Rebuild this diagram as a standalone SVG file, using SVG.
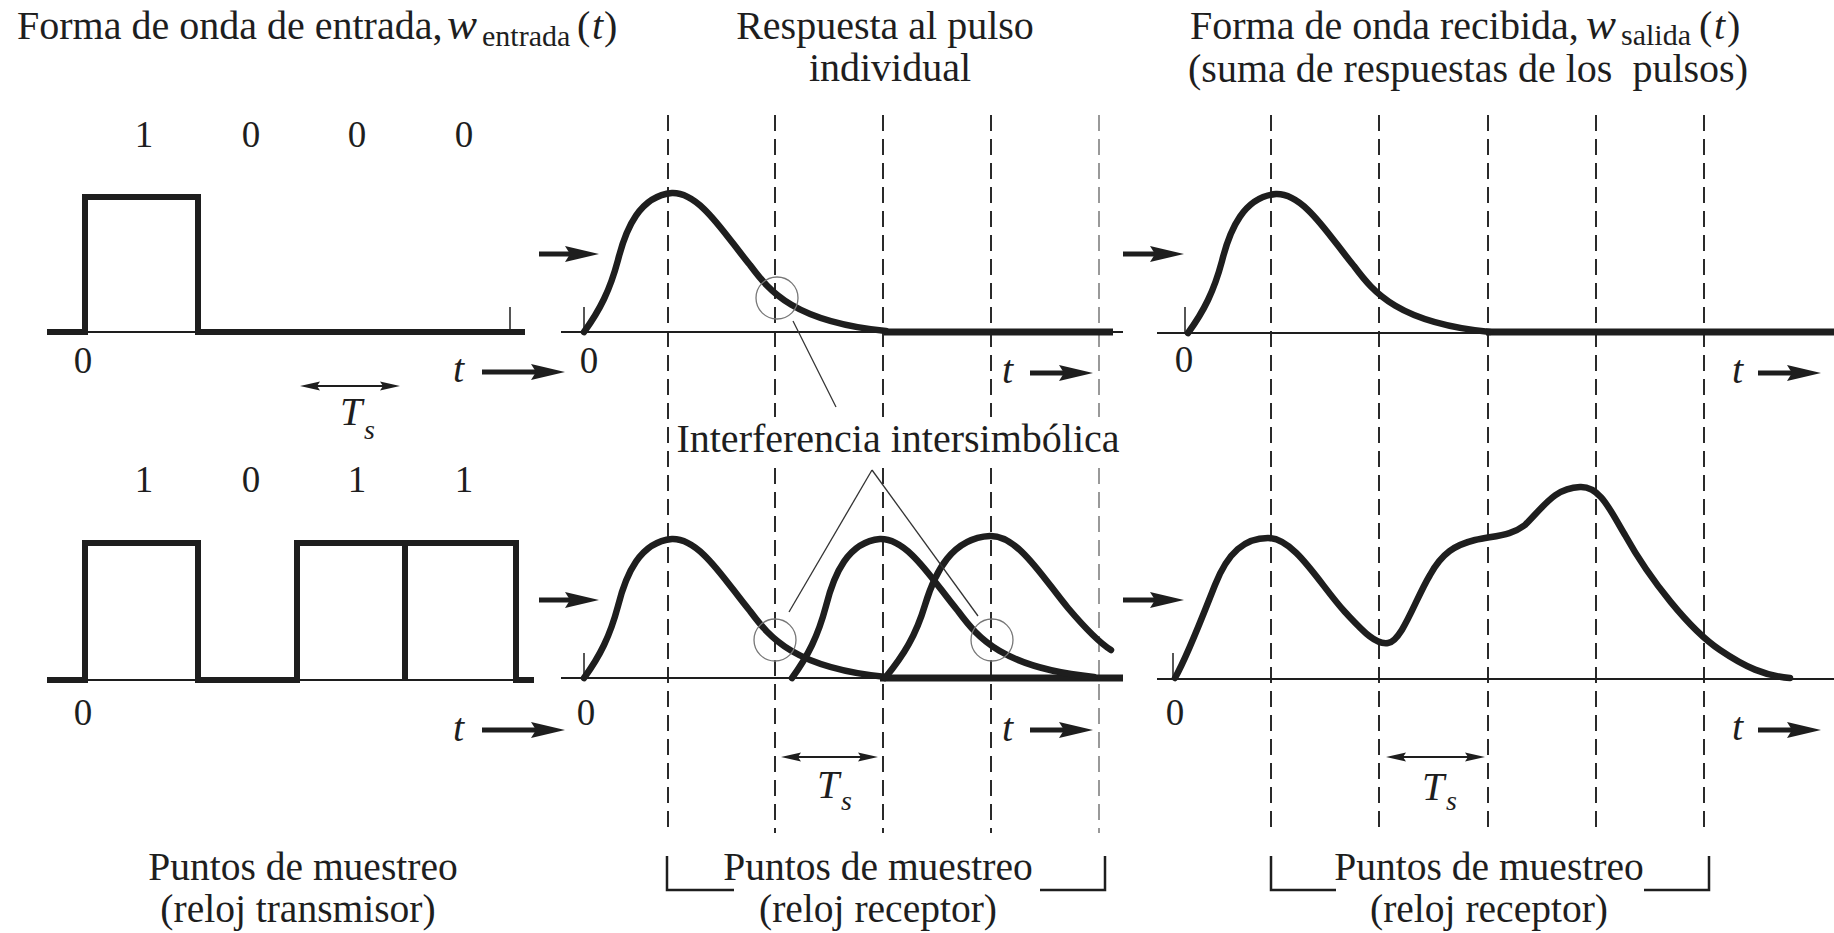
<svg xmlns="http://www.w3.org/2000/svg" width="1834" height="933" viewBox="0 0 1834 933">
<defs>
<marker id="ah" markerUnits="userSpaceOnUse" markerWidth="36" markerHeight="18" refX="14" refY="9" orient="auto"><path d="M0,1 L34,9 L0,17 L5,9 Z" fill="#1e1e1e"/></marker>
<marker id="sah" markerUnits="userSpaceOnUse" markerWidth="20" markerHeight="10" refX="10" refY="5" orient="auto-start-reverse"><path d="M0,0.5 L20,5 L0,9.5 L3,5 Z" fill="#1e1e1e"/></marker>
</defs>
<style>
text{font-family:"Liberation Serif","Times New Roman",serif;fill:#1e1e1e;font-size:40px}
.it{font-style:italic}
.w{font-style:italic;font-size:45px}
.sub{font-size:30px}
.ss{font-size:28px}
.num{font-size:37px;text-anchor:middle}
.mid{text-anchor:middle}
.bot{font-size:39.5px;text-anchor:middle}
.sq{fill:none;stroke:#1e1e1e;stroke-width:6;stroke-linejoin:miter;stroke-linecap:butt}
.thick{fill:none;stroke:#1e1e1e;stroke-width:7;stroke-linecap:butt}
.wave{fill:none;stroke:#1e1e1e;stroke-width:6.5;stroke-linecap:round;stroke-linejoin:round}
.axis{stroke:#1e1e1e;stroke-width:2}
.tick{stroke:#1e1e1e;stroke-width:1.5}
.dash{stroke:#2a2a2a;stroke-width:2;stroke-dasharray:16 8}
.dashg{stroke:#999;stroke-width:2;stroke-dasharray:16 8}
.circ{fill:none;stroke:#777;stroke-width:1.3}
.lead{stroke:#333;stroke-width:1.3}
.arr{stroke:#1e1e1e;stroke-width:5;marker-end:url(#ah)}
.ts{stroke:#1e1e1e;stroke-width:2;marker-start:url(#sah);marker-end:url(#sah)}
.brk{fill:none;stroke:#1e1e1e;stroke-width:2.5}
</style>

<g id="titles">
<text id="title-input"><tspan x="17" y="39">Forma de onda de entrada,</tspan><tspan x="447" y="39" class="w">w</tspan><tspan x="482" y="46" class="sub">entrada</tspan><tspan x="577" y="39">(</tspan><tspan x="592" y="39" class="it">t</tspan><tspan x="604" y="39">)</tspan></text>
<text id="title-response" class="mid"><tspan x="885" y="39">Respuesta al pulso</tspan><tspan x="890" y="81">individual</tspan></text>
<text id="title-output-1"><tspan x="1190" y="39">Forma de onda recibida,</tspan><tspan x="1586" y="39" class="w">w</tspan><tspan x="1621" y="45" class="sub">salida</tspan><tspan x="1699" y="39">(</tspan><tspan x="1714" y="39" class="it">t</tspan><tspan x="1727" y="39">)</tspan></text>
<text id="title-output-2" x="1468" y="82" class="mid" xml:space="preserve">(suma de respuestas de los  pulsos)</text>
</g>

<g id="grid">
<line class="dash" x1="668" y1="115" x2="668" y2="833"/>
<line class="dash" x1="775" y1="115" x2="775" y2="417"/>
<line class="dash" x1="775" y1="468" x2="775" y2="833"/>
<line class="dash" x1="883" y1="115" x2="883" y2="417"/>
<line class="dash" x1="883" y1="468" x2="883" y2="833"/>
<line class="dash" x1="991" y1="115" x2="991" y2="417"/>
<line class="dash" x1="991" y1="468" x2="991" y2="833"/>
<line class="dashg" x1="1099" y1="115" x2="1099" y2="417"/>
<line class="dashg" x1="1099" y1="468" x2="1099" y2="833"/>
<line class="dash" x1="1271" y1="115" x2="1271" y2="833"/>
<line class="dash" x1="1379" y1="115" x2="1379" y2="833"/>
<line class="dash" x1="1488" y1="115" x2="1488" y2="833"/>
<line class="dash" x1="1596" y1="115" x2="1596" y2="833"/>
<line class="dash" x1="1704" y1="115" x2="1704" y2="833"/>
</g>

<g id="input-top">
<line class="axis" x1="47" y1="332" x2="525" y2="332"/>
<line class="tick" x1="510" y1="307" x2="510" y2="332"/>
<path class="sq" d="M47,332 H85 V197 H198 V332 H525"/>
<text x="144" y="147" class="num">1</text>
<text x="251" y="147" class="num">0</text>
<text x="357" y="147" class="num">0</text>
<text x="464" y="147" class="num">0</text>
<text x="83" y="373" class="num">0</text>
<text x="453" y="382" class="it">t</text>
<line class="ts" x1="310" y1="386" x2="390" y2="386"/>
<text x="340" y="425" class="it">T</text>
<text x="364" y="439" class="it ss">s</text>
</g>

<g id="input-bottom">
<line class="axis" x1="47" y1="680" x2="534" y2="680"/>
<path class="sq" d="M47,680 H85 V543 H198 V680 H297 V543 H516 V680 H534"/>
<line class="sq" x1="405" y1="543" x2="405" y2="680"/>
<text x="144" y="492" class="num">1</text>
<text x="251" y="492" class="num">0</text>
<text x="357" y="492" class="num">1</text>
<text x="464" y="492" class="num">1</text>
<text x="83" y="725" class="num">0</text>
<text x="453" y="741" class="it">t</text>
</g>

<g id="response-top">
<line class="axis" x1="561" y1="332" x2="1123" y2="332"/>
<line class="tick" x1="584" y1="307" x2="584" y2="332"/>
<line class="thick" x1="884" y1="332" x2="1113" y2="332"/>
<path class="wave" d="M584,332 C600,310 610,290 618,260 C626,228 640,196 672,193 C700,192 725,235 750,265 C770,292 795,322 886,331"/>
<circle class="circ" cx="777" cy="298" r="21"/>
<text x="589" y="373" class="num">0</text>
<text x="1002" y="383" class="it">t</text>
</g>

<g id="response-bottom">
<line class="axis" x1="561" y1="678" x2="1123" y2="678"/>
<line class="tick" x1="584" y1="653" x2="584" y2="678"/>
<line class="thick" x1="880" y1="678" x2="1123" y2="678"/>
<path class="wave" d="M584,678 C600,656 610,636 618,606 C626,574 640,542 672,539 C700,538 725,581 750,611 C770,638 795,668 886,677"/>
<path class="wave" d="M792,678 C808,656 818,636 826,606 C834,574 848,542 880,539 C908,538 933,581 958,611 C978,638 1003,668 1094,677"/>
<path class="wave" d="M885,678 C904,655 916,635 925,605 C935,572 952,538 990,536 C1018,535 1043,578 1068,608 C1085,628 1098,642 1111,650"/>
<circle class="circ" cx="775" cy="640" r="21"/>
<circle class="circ" cx="992" cy="640" r="21"/>
<text x="586" y="725" class="num">0</text>
<text x="1002" y="741" class="it">t</text>
<line class="ts" x1="791" y1="757" x2="868" y2="757"/>
<text x="817" y="798" class="it">T</text>
<text x="841" y="810" class="it ss">s</text>
</g>

<g id="output-top">
<line class="axis" x1="1157" y1="333" x2="1834" y2="333"/>
<line class="tick" x1="1185" y1="307" x2="1185" y2="333"/>
<line class="thick" x1="1486" y1="332" x2="1834" y2="332"/>
<path class="wave" d="M1188,333 C1204,311 1214,291 1222,261 C1230,229 1244,197 1276,194 C1304,193 1329,236 1354,266 C1374,293 1399,323 1490,332"/>
<text x="1184" y="372" class="num">0</text>
<text x="1732" y="383" class="it">t</text>
</g>

<g id="output-bottom">
<line class="axis" x1="1157" y1="679" x2="1834" y2="679"/>
<line class="tick" x1="1173" y1="653" x2="1173" y2="679"/>
<path class="wave" d="M1175,678 C1188,655 1205,610 1215,585 C1228,552 1245,538 1268,538 C1295,538 1320,585 1345,612 C1362,630 1375,645 1388,643 C1402,641 1415,600 1430,575 C1442,553 1455,545 1475,540 C1500,535 1512,535 1525,525 C1545,505 1555,488 1580,487 C1600,486 1610,510 1625,535 C1650,580 1690,630 1720,650 C1745,667 1765,676 1790,678"/>
<text x="1175" y="725" class="num">0</text>
<text x="1732" y="740" class="it">t</text>
<line class="ts" x1="1396" y1="757" x2="1475" y2="757"/>
<text x="1422" y="800" class="it">T</text>
<text x="1446" y="810" class="it ss">s</text>
</g>

<g id="connectors">
<line class="arr" x1="482" y1="372" x2="545" y2="372"/>
<line class="arr" x1="482" y1="730" x2="545" y2="730"/>
<line class="arr" x1="1030" y1="373" x2="1073" y2="373"/>
<line class="arr" x1="1030" y1="730" x2="1073" y2="730"/>
<line class="arr" x1="1758" y1="373" x2="1801" y2="373"/>
<line class="arr" x1="1758" y1="730" x2="1801" y2="730"/>
<line class="arr" x1="539" y1="254" x2="579" y2="254"/>
<line class="arr" x1="539" y1="600" x2="579" y2="600"/>
<line class="arr" x1="1123" y1="254" x2="1164" y2="254"/>
<line class="arr" x1="1123" y1="600" x2="1164" y2="600"/>
<line class="lead" x1="793" y1="321" x2="836" y2="407"/>
<line class="lead" x1="872" y1="470" x2="789" y2="612"/>
<line class="lead" x1="872" y1="470" x2="978" y2="616"/>
</g>

<g id="isi-label">
<text x="898" y="452" class="mid">Interferencia intersimbólica</text>
</g>

<g id="sampling-labels">
<text x="303" y="880" class="bot">Puntos de muestreo</text>
<text x="298" y="922" class="bot">(reloj transmisor)</text>
<path class="brk" d="M667,856 V890 H734"/>
<path class="brk" d="M1040,890 H1105 V856"/>
<text x="878" y="880" class="bot">Puntos de muestreo</text>
<text x="878" y="922" class="bot">(reloj receptor)</text>
<path class="brk" d="M1271,856 V890 H1336"/>
<path class="brk" d="M1644,890 H1709 V856"/>
<text x="1489" y="880" class="bot">Puntos de muestreo</text>
<text x="1489" y="922" class="bot">(reloj receptor)</text>
</g>
</svg>
